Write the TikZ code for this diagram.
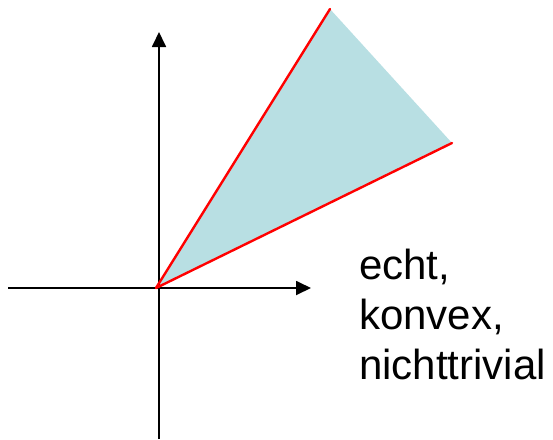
\documentclass[tikz,border=0pt]{standalone}
\usepackage{fontspec}
\setmainfont{Liberation Sans}
\usetikzlibrary{arrows.meta}
\definecolor{conefill}{RGB}{184,223,227}
\tikzset{
  axis/.style={line width=1.8pt,-{Triangle[length=15pt,width=14pt]}},
  ray/.style={line width=2.4pt,red,line cap=round},
  lbl/.style={anchor=base west,inner sep=0pt,font=\fontsize{42}{50}\selectfont}
}
\begin{document}
\begin{tikzpicture}[x=1pt,y=-1pt]
\useasboundingbox (0,0) rectangle (553,439);
\coordinate (O) at (156,288);
\coordinate (A) at (330,9);
\coordinate (B) at (452,143);
\coordinate (xs) at (8,288);
\coordinate (xe) at (311,288);
\coordinate (ys) at (159,439);
\coordinate (ye) at (159,32);
\fill[conefill] (O) -- (A) -- (B) -- cycle;
\draw[axis] (xs) -- (xe);
\draw[axis] (ys) -- (ye);
\draw[ray] (O) -- (A);
\draw[ray] (O) -- (B);
\node[lbl] (l1) at (359,279) {echt,};
\node[lbl] (l2) at (359,329) {konvex,};
\node[lbl] (l3) at (359,379) {nichttrivial};
\end{tikzpicture}
\end{document}
